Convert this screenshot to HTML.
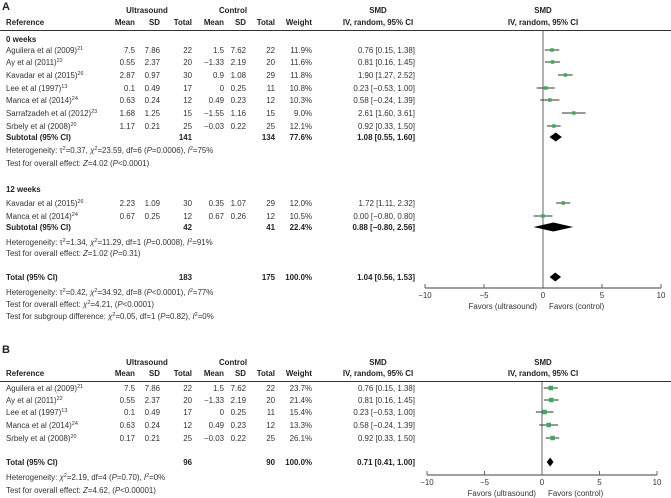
<!DOCTYPE html>
<html><head><meta charset="utf-8"><style>
body{margin:0;background:#fff;}
svg{display:block;font-family:"Liberation Sans",sans-serif;font-size:7.9px;fill:#333;}
.b{font-weight:bold;fill:#222;}
</style></head><body>
<svg id="s" width="671" height="498" viewBox="0 0 671 498"></svg>
<script>
// Panel A data
const aStudies=["Aguilera et al (2009)|21","Ay et al (2011)|22","Kavadar et al (2015)|26","Lee et al (1997)|13","Manca et al (2014)|24","Sarrafzadeh et al (2012)|23","Srbely et al (2008)|20"];
const aMean=["7.5","0.55","2.87","0.1","0.63","1.68","1.17"];
const aSD=["7.86","2.37","0.97","0.49","0.24","1.25","0.21"];
const aTot=["22","20","30","17","12","15","25"];
const aCMean=["1.5","−1.33","0.9","0","0.49","−1.55","−0.03"];
const aCSD=["7.62","2.19","1.08","0.25","0.23","1.16","0.22"];
const aCTot=["22","20","29","11","12","15","25"];
const aWeight=["11.9%","11.6%","11.8%","10.8%","10.3%","9.0%","12.1%"];
const aEst=[0.76,0.81,1.90,0.23,0.58,2.61,0.92];
const aLo=[0.15,0.16,1.27,-0.53,-0.24,1.60,0.33];
const aHi=[1.38,1.45,2.52,1.00,1.39,3.61,1.50];
// Panel A 12 weeks
const a2Studies=["Kavadar et al (2015)|26","Manca et al (2014)|24"];
const a2Mean=["2.23","0.67"],a2SD=["1.09","0.25"],a2Tot=["30","12"],a2CMean=["0.35","0.67"],a2CSD=["1.07","0.26"],a2CTot=["29","12"],a2Weight=["12.0%","10.5%"];
const a2Est=[1.72,0.00],a2Lo=[1.11,-0.80],a2Hi=[2.32,0.80];
// Pooled A
const aPoolEst=[1.08,0.88,1.04],aPoolLo=[0.55,-0.80,0.56],aPoolHi=[1.60,2.56,1.53];
// Panel B
const bStudies=["Aguilera et al (2009)|21","Ay et al (2011)|22","Lee et al (1997)|13","Manca et al (2014)|24","Srbely et al (2008)|20"];
const bMean=["7.5","0.55","0.1","0.63","0.17"],bSD=["7.86","2.37","0.49","0.24","0.21"],bTot=["22","20","17","12","25"];
const bCMean=["1.5","−1.33","0","0.49","−0.03"],bCSD=["7.62","2.19","0.25","0.23","0.22"],bCTot=["22","20","11","12","25"];
const bWeight=["23.7%","21.4%","15.4%","13.3%","26.1%"];
const bEst=[0.76,0.81,0.23,0.58,0.92],bLo=[0.15,0.16,-0.53,-0.24,0.33],bHi=[1.38,1.45,1.00,1.39,1.50];
const bPoolEst=[0.71],bPoolLo=[0.41],bPoolHi=[1.00];
const ticks=[-10,-5,0,5,10];

const S=document.getElementById('s');const NS="http://www.w3.org/2000/svg";
function el(t,a,txt){const e=document.createElementNS(NS,t);for(const k in a)e.setAttribute(k,a[k]);if(txt!==undefined)e.textContent=txt;S.appendChild(e);return e;}
function tx(x,y,s,anchor,cls,name){const e=el('text',{x:x,y:y,'text-anchor':anchor||'start','class':cls||''});


e.innerHTML=s;return e;}
function fmt(v){return (v<0?'−':'')+Math.abs(v).toFixed(2);}
function ci(e,l,h){return fmt(e)+' ['+fmt(l)+', '+fmt(h)+']';}
function ln(x1,y1,x2,y2,c,w,name){const e=el('line',{x1:x1,y1:y1,x2:x2,y2:y2,stroke:c,'stroke-width':w});

return e;}
const cols=[135,160,192,224,246,275,312];
function header(yL,y1,y2,yR,letter){
 tx(2,yL,letter,'start','b','panel-letter').setAttribute('font-size','11');
 tx(147,y1,'Ultrasound','middle','b','ultrasound-header');
 tx(233,y1,'Control','middle','b','control-header');
 tx(6,y2,'Reference','start','b','reference-header');
 ['Mean','SD','Total','Mean','SD','Total','Weight'].forEach((h,i)=>tx(cols[i],y2,h,'end','b','column-header'));
 tx(378,y1,'SMD','middle','b','smd-header');tx(378,y2,'IV, random, 95% CI','middle','b','smd-method-header');
 tx(543,y1,'SMD','middle','b','plot-smd-header');tx(543,y2,'IV, random, 95% CI','middle','b','plot-method-header');
 ln(0,yR,671,yR,'#333',1,'header-rule');
}
function row(y,name,vals,est,lo,hi,X,sz){
 const [n,sup]=name.split('|');
 tx(6,y,n+'<tspan dy="-3" font-size="5.5">'+sup+'</tspan>','start','','study-name');
 vals.forEach((v,i)=>tx(cols[i],y,v,'end','','study-value'));
 tx(415,y,ci(est,lo,hi),'end','','study-smd');
 ln(X(lo),y-3,X(hi),y-3,'#333',1,'ci-line');
 const r=el('rect',{x:X(est)-sz/2,y:y-3-sz/2,width:sz,height:sz,fill:'#3daa5c'});
 
 
}
function dia(y,e,l,h,X,hh){const yc=y-3;const p=el('polygon',{points:`${X(l)},${yc} ${X(e)},${yc-hh} ${X(h)},${yc} ${X(e)},${yc+hh}`,fill:'#000'});

}
function axis(ay,x0,x1,ytop,name){
 const X=v=>x0+(v+10)/20*(x1-x0);
 ln(X(0),ytop,X(0),ay,'#666',1,'zero-line');
 ln(x0,ay,x1,ay,'#666',1.2,name+'-axis');
 ticks.forEach(t=>{ln(X(t),ay-4,X(t),ay,'#666',1,'tick');tx(X(t),ay+10,t<0?'−'+(-t):t,'middle','','tick-label');});
 tx(X(0)-6,ay+21,'Favors (ultrasound)','end','','favors-ultrasound');
 tx(X(0)+6,ay+21,'Favors (control)','start','','favors-control');
 return X;
}
// Panel A
header(10,13,25,30.5,'A');
const XA=axis(288,425,661,31,'a');
tx(6,42,'0 weeks','start','b','subgroup-title');
const aY=[53,65,78,91,103,116,129];
aStudies.forEach((s,i)=>row(aY[i],s,[aMean[i],aSD[i],aTot[i],aCMean[i],aCSD[i],aCTot[i],aWeight[i]],aEst[i],aLo[i],aHi[i],XA,3.5));
tx(6,140,'Subtotal (95% CI)','start','b','subtotal-label');tx(192,140,'141','end','b','');tx(275,140,'134','end','b','');tx(312,140,'77.6%','end','b','');
tx(415,140,ci(aPoolEst[0],aPoolLo[0],aPoolHi[0]),'end','b','subtotal-smd');dia(140,aPoolEst[0],aPoolLo[0],aPoolHi[0],XA,4.5);
tx(6,153,'Heterogeneity: τ<tspan dy="-3" font-size="5.5">2</tspan><tspan dy="3">=0.37, </tspan><tspan font-style="italic">χ</tspan><tspan dy="-3" font-size="5.5">2</tspan><tspan dy="3">=23.59, df=6 (</tspan><tspan font-style="italic">P</tspan>=0.0006), <tspan font-style="italic">I</tspan><tspan dy="-3" font-size="5.5">2</tspan><tspan dy="3">=75%</tspan>','start','','heterogeneity');
tx(6,166,'Test for overall effect: <tspan font-style="italic">Z</tspan>=4.02 (<tspan font-style="italic">P</tspan>&lt;0.0001)','start','','overall-effect');
tx(6,192,'12 weeks','start','b','subgroup-title');
const a2Y=[206,219];
a2Studies.forEach((s,i)=>row(a2Y[i],s,[a2Mean[i],a2SD[i],a2Tot[i],a2CMean[i],a2CSD[i],a2CTot[i],a2Weight[i]],a2Est[i],a2Lo[i],a2Hi[i],XA,3.5));
tx(6,230,'Subtotal (95% CI)','start','b','subtotal-label');tx(192,230,'42','end','b','');tx(275,230,'41','end','b','');tx(312,230,'22.4%','end','b','');
tx(415,230,ci(aPoolEst[1],aPoolLo[1],aPoolHi[1]),'end','b','subtotal-smd');dia(230,aPoolEst[1],aPoolLo[1],aPoolHi[1],XA,4.5);
tx(6,245,'Heterogeneity: τ<tspan dy="-3" font-size="5.5">2</tspan><tspan dy="3">=1.34, </tspan><tspan font-style="italic">χ</tspan><tspan dy="-3" font-size="5.5">2</tspan><tspan dy="3">=11.29, df=1 (</tspan><tspan font-style="italic">P</tspan>=0.0008), <tspan font-style="italic">I</tspan><tspan dy="-3" font-size="5.5">2</tspan><tspan dy="3">=91%</tspan>','start','','heterogeneity');
tx(6,256,'Test for overall effect: <tspan font-style="italic">Z</tspan>=1.02 (<tspan font-style="italic">P</tspan>=0.31)','start','','overall-effect');
tx(6,280,'Total (95% CI)','start','b','total-label');tx(192,280,'183','end','b','');tx(275,280,'175','end','b','');tx(312,280,'100.0%','end','b','');
tx(415,280,ci(aPoolEst[2],aPoolLo[2],aPoolHi[2]),'end','b','total-smd');dia(280,aPoolEst[2],aPoolLo[2],aPoolHi[2],XA,4.5);
tx(6,295,'Heterogeneity: τ<tspan dy="-3" font-size="5.5">2</tspan><tspan dy="3">=0.42, </tspan><tspan font-style="italic">χ</tspan><tspan dy="-3" font-size="5.5">2</tspan><tspan dy="3">=34.92, df=8 (</tspan><tspan font-style="italic">P</tspan>&lt;0.0001), <tspan font-style="italic">I</tspan><tspan dy="-3" font-size="5.5">2</tspan><tspan dy="3">=77%</tspan>','start','','heterogeneity');
tx(6,307,'Test for overall effect: <tspan font-style="italic">χ</tspan><tspan dy="-3" font-size="5.5">2</tspan><tspan dy="3">=4.21, (</tspan><tspan font-style="italic">P</tspan>&lt;0.0001)','start','','overall-effect');
tx(6,319,'Test for subgroup difference: <tspan font-style="italic">χ</tspan><tspan dy="-3" font-size="5.5">2</tspan><tspan dy="3">=0.05, df=1 (</tspan><tspan font-style="italic">P</tspan>=0.82), <tspan font-style="italic">I</tspan><tspan dy="-3" font-size="5.5">2</tspan><tspan dy="3">=0%</tspan>','start','','subgroup-difference');
// Panel B
header(353,365,376,381.5,'B');
const XB=axis(475,427,657,382,'b');
const bY=[391,403,415,428,441];
bStudies.forEach((s,i)=>row(bY[i],s,[bMean[i],bSD[i],bTot[i],bCMean[i],bCSD[i],bCTot[i],bWeight[i]],bEst[i],bLo[i],bHi[i],XB,4.5));
tx(6,465,'Total (95% CI)','start','b','total-label');tx(192,465,'96','end','b','');tx(275,465,'90','end','b','');tx(312,465,'100.0%','end','b','');
tx(415,465,ci(bPoolEst[0],bPoolLo[0],bPoolHi[0]),'end','b','total-smd');dia(465,bPoolEst[0],bPoolLo[0],bPoolHi[0],XB,4.5);
tx(6,480,'Heterogeneity: <tspan font-style="italic">χ</tspan><tspan dy="-3" font-size="5.5">2</tspan><tspan dy="3">=2.19, df=4 (</tspan><tspan font-style="italic">P</tspan>=0.70), <tspan font-style="italic">I</tspan><tspan dy="-3" font-size="5.5">2</tspan><tspan dy="3">=0%</tspan>','start','','heterogeneity');
tx(6,493,'Test for overall effect: <tspan font-style="italic">Z</tspan>=4.62, (<tspan font-style="italic">P</tspan>&lt;0.00001)','start','','overall-effect');
</script>
</body></html>
